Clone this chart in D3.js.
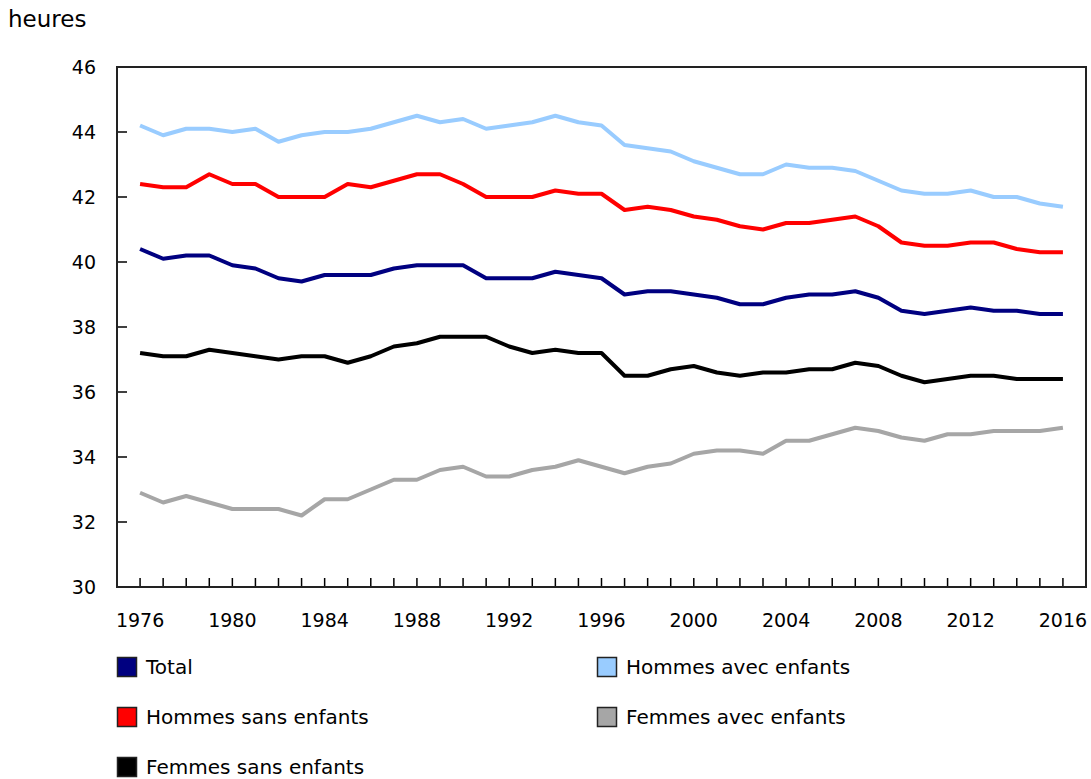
<!DOCTYPE html>
<html><head><meta charset="utf-8">
<script src="https://cdn.jsdelivr.net/npm/d3@7"></script>
<style>
body{margin:0;background:#fff;}
text{font-family:Verdana,"DejaVu Sans",sans-serif;fill:#000;}
</style></head>
<body><svg id="c" width="1091" height="779"></svg>
<script>
const years = d3.range(1976, 2017);
const seriesNames = ["Total","Hommes avec enfants","Hommes sans enfants","Femmes avec enfants","Femmes sans enfants"];
const seriesColors = ["#000080","#99CCFF","#FF0000","#A6A6A6","#000000"];
const total = [40.4,40.1,40.2,40.2,39.9,39.8,39.5,39.4,39.6,39.6,39.6,39.8,39.9,39.9,39.9,39.5,39.5,39.5,39.7,39.6,39.5,39.0,39.1,39.1,39.0,38.9,38.7,38.7,38.9,39.0,39.0,39.1,38.9,38.5,38.4,38.5,38.6,38.5,38.5,38.4,38.4];
const hommesAvec = [44.2,43.9,44.1,44.1,44.0,44.1,43.7,43.9,44.0,44.0,44.1,44.3,44.5,44.3,44.4,44.1,44.2,44.3,44.5,44.3,44.2,43.6,43.5,43.4,43.1,42.9,42.7,42.7,43.0,42.9,42.9,42.8,42.5,42.2,42.1,42.1,42.2,42.0,42.0,41.8,41.7];
const hommesSans = [42.4,42.3,42.3,42.7,42.4,42.4,42.0,42.0,42.0,42.4,42.3,42.5,42.7,42.7,42.4,42.0,42.0,42.0,42.2,42.1,42.1,41.6,41.7,41.6,41.4,41.3,41.1,41.0,41.2,41.2,41.3,41.4,41.1,40.6,40.5,40.5,40.6,40.6,40.4,40.3,40.3];
const femmesAvec = [32.9,32.6,32.8,32.6,32.4,32.4,32.4,32.2,32.7,32.7,33.0,33.3,33.3,33.6,33.7,33.4,33.4,33.6,33.7,33.9,33.7,33.5,33.7,33.8,34.1,34.2,34.2,34.1,34.5,34.5,34.7,34.9,34.8,34.6,34.5,34.7,34.7,34.8,34.8,34.8,34.9];
const femmesSans = [37.2,37.1,37.1,37.3,37.2,37.1,37.0,37.1,37.1,36.9,37.1,37.4,37.5,37.7,37.7,37.7,37.4,37.2,37.3,37.2,37.2,36.5,36.5,36.7,36.8,36.6,36.5,36.6,36.6,36.7,36.7,36.9,36.8,36.5,36.3,36.4,36.5,36.5,36.4,36.4,36.4];
const yTicks = [30,32,34,36,38,40,42,44,46];
const xTickLabels = [1976,1980,1984,1988,1992,1996,2000,2004,2008,2012,2016];
const yTitle = "heures";

const seriesValues = [total, hommesAvec, hommesSans, femmesAvec, femmesSans];
const drawOrder = [1,2,0,4,3];

const svg = d3.select("#c");
const L = 117, R = 1086, T = 67, B = 587;
const x = d3.scaleLinear().domain([1975, 2017]).range([L, R]);
const y = d3.scaleLinear().domain([30, 46]).range([B, T]);

// y title
svg.append("text").attr("x", 8).attr("y", 27).attr("font-size", 23).text(yTitle);

// y axis labels & ticks
const gy = svg.append("g");
gy.selectAll("text").data(yTicks).join("text")
  .attr("x", 96).attr("y", d => y(d)).attr("dy", "0.35em")
  .attr("text-anchor", "end").attr("font-size", 19).text(d => d);
gy.selectAll("line").data(yTicks).join("line")
  .attr("x1", L).attr("x2", L + 10).attr("y1", d => y(d)).attr("y2", d => y(d))
  .attr("stroke", "#000").attr("stroke-width", 1.5);

// x ticks (every year, inward)
const gx = svg.append("g");
gx.selectAll("line").data(years).join("line")
  .attr("x1", d => x(d)).attr("x2", d => x(d)).attr("y1", B).attr("y2", B - 9)
  .attr("stroke", "#000").attr("stroke-width", 1.5);
gx.selectAll("text").data(xTickLabels).join("text")
  .attr("x", d => x(d)).attr("y", 627).attr("text-anchor", "middle")
  .attr("font-size", 19).text(d => d);

// frame
svg.append("rect").attr("x", L).attr("y", T).attr("width", R - L).attr("height", B - T)
  .attr("fill", "none").attr("stroke", "#222").attr("stroke-width", 2);

// lines
const line = d3.line().x((d, i) => x(years[i])).y(d => y(d));
drawOrder.forEach(k => {
  svg.append("path").datum(seriesValues[k]).attr("d", line)
    .attr("fill", "none").attr("stroke", seriesColors[k]).attr("stroke-width", 4)
    .attr("stroke-linejoin", "round");
});

// legend
const legendPos = [[117,657],[597,657],[117,707],[597,707],[117,757]];
seriesNames.forEach((name, k) => {
  const [lx, ly] = legendPos[k];
  svg.append("rect").attr("x", lx + 0.5).attr("y", ly + 0.5).attr("width", 19).attr("height", 19)
    .attr("fill", seriesColors[k]).attr("stroke", "#222").attr("stroke-width", 1.5);
  svg.append("text").attr("x", lx + 29).attr("y", ly + 10).attr("dy", "0.35em")
    .attr("font-size", 20).text(name);
});
</script></body></html>
